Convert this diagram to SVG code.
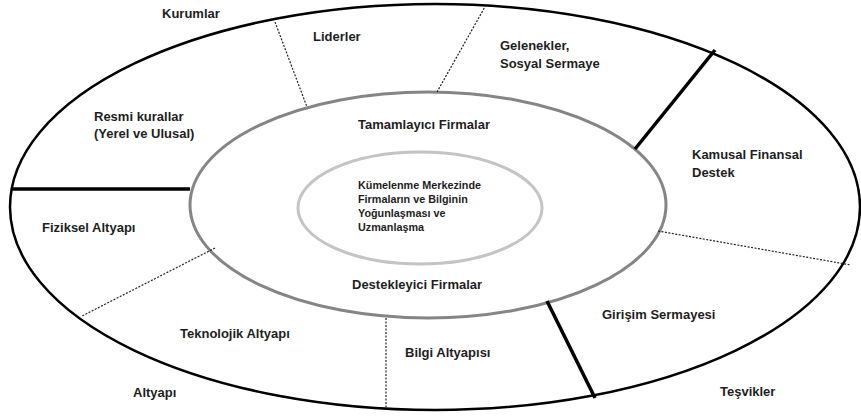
<svg xmlns="http://www.w3.org/2000/svg" width="861" height="416" viewBox="0 0 861 416">
<style>
text{font-family:"Liberation Sans",Arial,sans-serif;font-weight:bold;font-size:13px;fill:#1e1e1e}
.small{font-size:10.8px}
.thick{stroke:#000;stroke-width:3.5;fill:none}
.dot{stroke:#222;stroke-width:1.2;stroke-dasharray:2 1.5;fill:none}
</style>
<rect width="861" height="416" fill="#fff"/>
<g id="outer"><ellipse cx="435" cy="207" rx="425" ry="203" fill="none" stroke="#000" stroke-width="2.5"/></g>
<g id="middle"><ellipse cx="428" cy="205" rx="238" ry="113" fill="none" stroke="#858585" stroke-width="3"/></g>
<g id="inner"><ellipse cx="420" cy="208" rx="122" ry="56" fill="none" stroke="#c4c4c4" stroke-width="3"/></g>
<g id="connectors">
<line class="thick" x1="11" y1="189" x2="190" y2="189" stroke-width="5"/>
<line class="thick" x1="715" y1="50" x2="635" y2="149"/>
<line class="thick" x1="547" y1="301" x2="595" y2="398"/>
<line class="dot" x1="275" y1="22" x2="307" y2="107"/>
<line class="dot" x1="486" y1="5" x2="437" y2="92"/>
<line class="dot" x1="658" y1="231" x2="851" y2="265"/>
<line class="dot" x1="215" y1="248" x2="82" y2="316"/>
<line class="dot" x1="386" y1="318" x2="386" y2="408"/>
</g>
<g id="kurumlar"><text x="162" y="18">Kurumlar</text></g>
<g id="liderler"><text x="313" y="41">Liderler</text></g>
<g id="gelenekler"><text x="500" y="50">Gelenekler,</text><text x="500" y="68">Sosyal Sermaye</text></g>
<g id="resmi"><text x="94" y="121">Resmi kurallar</text><text x="94" y="138">(Yerel ve Ulusal)</text></g>
<g id="tamamlayici"><text x="358" y="129">Tamamlayıcı Firmalar</text></g>
<g id="kamusal"><text x="692" y="159">Kamusal Finansal</text><text x="692" y="177">Destek</text></g>
<g id="merkez"><text class="small" x="358" y="189">Kümelenme Merkezinde</text><text class="small" x="358" y="203">Firmaların ve Bilginin</text><text class="small" x="358" y="217">Yoğunlaşması ve</text><text class="small" x="358" y="231">Uzmanlaşma</text></g>
<g id="fiziksel"><text x="42" y="232">Fiziksel Altyapı</text></g>
<g id="destekleyici"><text x="352" y="289">Destekleyici Firmalar</text></g>
<g id="teknolojik"><text x="180" y="338">Teknolojik Altyapı</text></g>
<g id="bilgi"><text x="405" y="357">Bilgi Altyapısı</text></g>
<g id="altyapi"><text x="133" y="397">Altyapı</text></g>
<g id="girisim"><text x="602" y="319">Girişim Sermayesi</text></g>
<g id="tesvikler"><text x="720" y="396">Teşvikler</text></g>
</svg>
